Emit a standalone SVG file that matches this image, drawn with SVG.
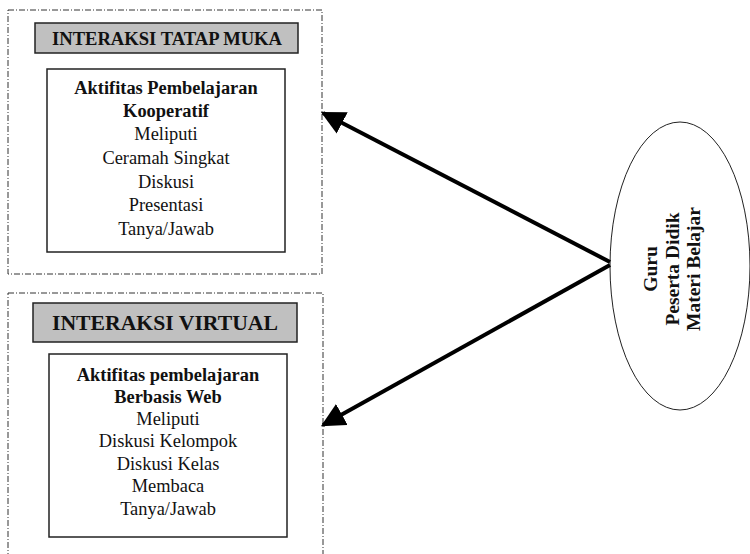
<svg xmlns="http://www.w3.org/2000/svg" width="750" height="554" viewBox="0 0 750 554">
<defs>
<style>
.dash{fill:none;stroke:#333;stroke-width:1;stroke-dasharray:6,2,1,2}
.hdr{fill:#c0c0c0;stroke:#222;stroke-width:1.5}
.box{fill:#fff;stroke:#222;stroke-width:1.5}
.txt text{fill:#111;text-anchor:middle}
.b{font-weight:bold}
.t{font-size:18.4px}
.r{font-size:19.5px}
.conn{stroke:#000;stroke-width:4;fill:none}
</style>
<marker id="ah" viewBox="0 0 10 10" refX="9" refY="5" markerWidth="6" markerHeight="6" orient="auto" markerUnits="strokeWidth">
<path d="M0,0 L10,5 L0,10 z" fill="#000"/>
</marker>
</defs>
<rect width="750" height="554" fill="#fff"/>
<g id="tatap-muka" class="txt" font-family="'Liberation Serif', 'Times New Roman', Times, serif">
<rect class="dash" x="8" y="10" width="314" height="264"/>
<rect class="hdr" x="35" y="23" width="263" height="30"/>
<text class="b" x="167" y="45" font-size="18.6">INTERAKSI TATAP MUKA</text>
<rect class="box" x="47" y="69" width="238" height="183"/>
<text class="t b" x="166" y="94">Aktifitas Pembelajaran</text>
<text class="t b" x="166" y="117">Kooperatif</text>
<text class="t" x="166" y="140">Meliputi</text>
<text class="t" x="166" y="164">Ceramah Singkat</text>
<text class="t" x="166" y="188">Diskusi</text>
<text class="t" x="166" y="211">Presentasi</text>
<text class="t" x="166" y="235">Tanya/Jawab</text>
</g>
<g id="virtual" class="txt" font-family="'Liberation Serif', 'Times New Roman', Times, serif">
<rect class="dash" x="8" y="293" width="315" height="280"/>
<rect class="hdr" x="33" y="303" width="264" height="39"/>
<text class="b" x="165" y="330" font-size="21.7">INTERAKSI VIRTUAL</text>
<rect class="box" x="49" y="354" width="238" height="183"/>
<text class="t b" x="168" y="381">Aktifitas pembelajaran</text>
<text class="t b" x="168" y="403">Berbasis Web</text>
<text class="t" x="168" y="425">Meliputi</text>
<text class="t" x="168" y="447">Diskusi Kelompok</text>
<text class="t" x="168" y="470">Diskusi Kelas</text>
<text class="t" x="168" y="492">Membaca</text>
<text class="t" x="168" y="515">Tanya/Jawab</text>
</g>
<g id="pelaku" class="txt" font-family="'Liberation Serif', 'Times New Roman', Times, serif">
<ellipse cx="680" cy="266" rx="70" ry="144" fill="#fff" stroke="#222" stroke-width="1"/>
<text class="r b" transform="translate(657,269) rotate(-90)">Guru</text>
<text class="r b" transform="translate(679,269) rotate(-90)">Peserta Didik</text>
<text class="r b" transform="translate(700,269) rotate(-90)">Materi Belajar</text>
</g>
<g id="connectors">
<line class="conn" x1="610" y1="262" x2="323" y2="113" marker-end="url(#ah)"/>
<line class="conn" x1="610" y1="265" x2="323" y2="425" marker-end="url(#ah)"/>
</g>
</svg>
